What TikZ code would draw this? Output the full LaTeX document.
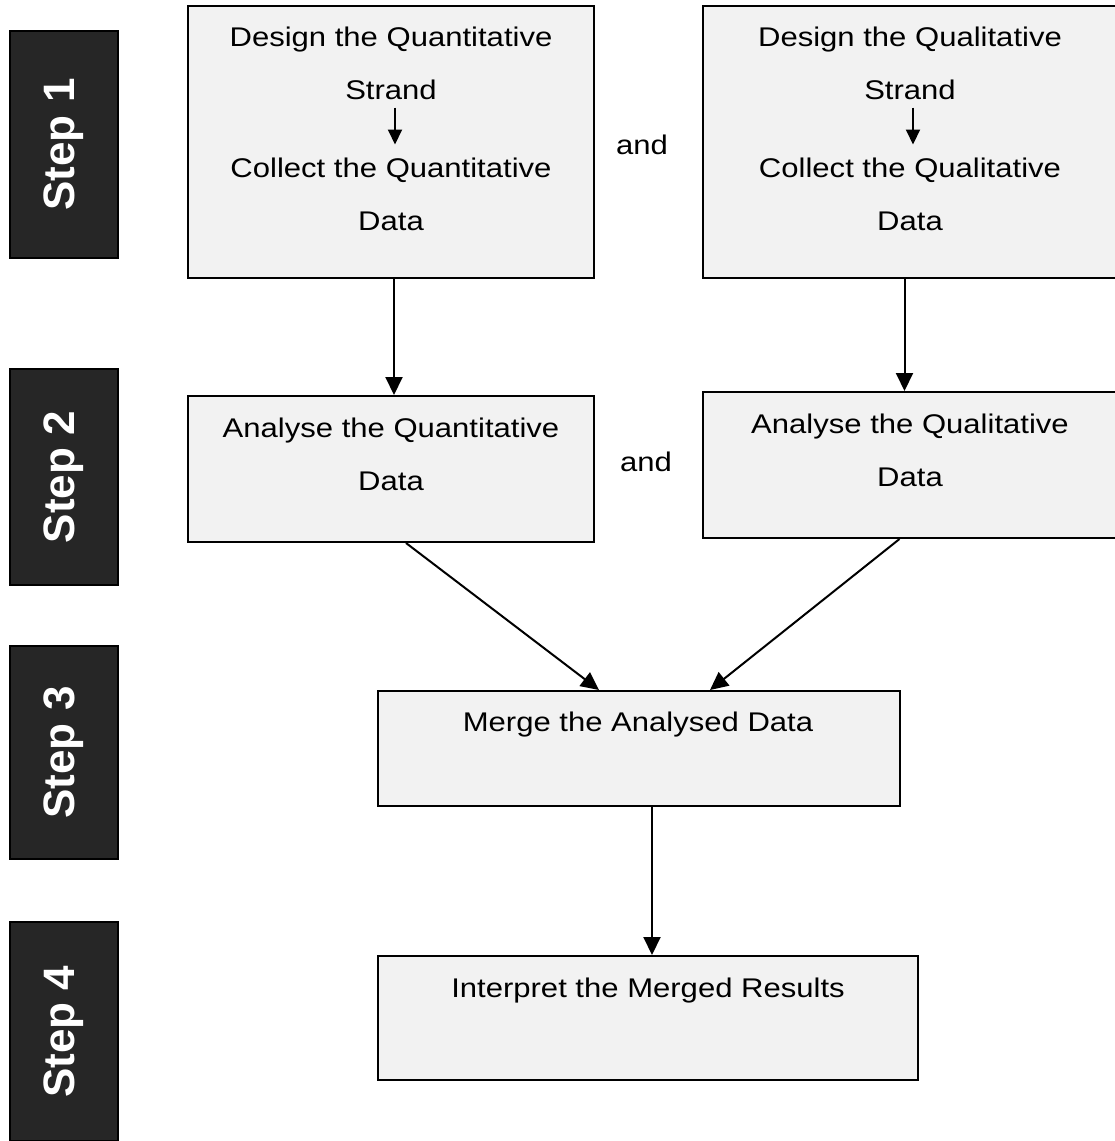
\documentclass[tikz,border=0pt]{standalone}
\usepackage{fontspec}
\setmainfont{Liberation Sans}
\newfontfamily\boxfont{Liberation Sans}[FakeStretch=1.15]
\usetikzlibrary{arrows.meta,positioning}
\tikzset{>/.tip={Triangle[length=18pt,width=17pt]}}
\tikzset{small>/.tip={Triangle[length=15pt,width=14pt]}}
\definecolor{panelgray}{HTML}{F2F2F2}
\definecolor{stepgray}{HTML}{262626}
\tikzset{
  panel/.style={draw=black,line width=2pt,fill=panelgray,inner sep=0pt},
  stepbox/.style={draw=black,line width=1.5pt,fill=stepgray,text=white,
    rotate=90,minimum height=108pt,inner sep=0pt,
    font=\fontsize{44}{44}\selectfont\bfseries},
  words/.style={align=center,inner sep=0pt,anchor=north,
    font=\boxfont\fontsize{27}{53}\selectfont},
  link/.style={->,line width=2pt},
}

\begin{document}
\begin{tikzpicture}[x=1pt,y=-1pt]
  \useasboundingbox (0,0) rectangle (1115,1141);
  % steps
  \node[stepbox,minimum width=227pt](step1) at (64,144.5){Step 1};
  \node[stepbox,minimum width=216pt](step2) at (64,477){Step 2};
  \node[stepbox,minimum width=213pt](step3) at (64,752.5){Step 3};
  \node[stepbox,minimum width=219pt](step4) at (64,1031.5){Step 4};
  % boxes
  \node[panel,minimum width=406pt,minimum height=272pt](quant1) at (391,142){};
  \node[panel,minimum width=413pt,minimum height=272pt](qual1) at (909.5,142){};
  \node[panel,minimum width=406pt,minimum height=146pt](quant2) at (391,469){};
  \node[panel,minimum width=413pt,minimum height=146pt](qual2) at (909.5,465){};
  \node[panel,minimum width=522pt,minimum height=115pt](merge) at (639,748.5){};
  \node[panel,minimum width=540pt,minimum height=124pt](interp) at (648,1018){};
  % texts
  \node[words](quantdesign) at (391,26.5){Design the Quantitative\\Strand};
  \node[words](quantcollect) at (391,157.5){Collect the Quantitative\\Data};
  \node[words](qualdesign) at (910,26.5){Design the Qualitative\\Strand};
  \node[words](qualcollect) at (910,157.5){Collect the Qualitative\\Data};
  \node[words](quantanalyse) at (391,417.5){Analyse the Quantitative\\Data};
  \node[words](qualanalyse) at (910,413.5){Analyse the Qualitative\\Data};
  \node[words](mergetext) at (638,711.5){Merge the Analysed Data};
  \node[words](interptext) at (648,977.5){Interpret the Merged Results};
  \node[words,anchor=base](and1) at (642,154){and};
  \node[words,anchor=base](and2) at (646,471){and};
  % arrows
  \draw[-{small>},line width=2pt] ([xshift=4pt,yshift=-8pt]quantdesign.south)
    -- ([xshift=4pt,yshift=13pt]quantcollect.north);
  \draw[-{small>},line width=2pt] ([xshift=3pt,yshift=-8pt]qualdesign.south)
    -- ([xshift=3pt,yshift=13pt]qualcollect.north);
  \draw[link] ([xshift=3pt]quant1.south) -- ([xshift=3pt]quant1.south |- quant2.north);
  \draw[link] ([xshift=-5pt]qual1.south) -- ([xshift=-5pt]qual1.south |- qual2.north);
  \draw[link] ([xshift=15pt]quant2.south) -- ([xshift=-40pt]merge.north);
  \draw[link] ([xshift=-10pt]qual2.south) -- ([xshift=71pt]merge.north);
  \draw[link] ([xshift=13pt]merge.south) -- ([xshift=13pt]merge.south |- interp.north);
\end{tikzpicture}
\end{document}
